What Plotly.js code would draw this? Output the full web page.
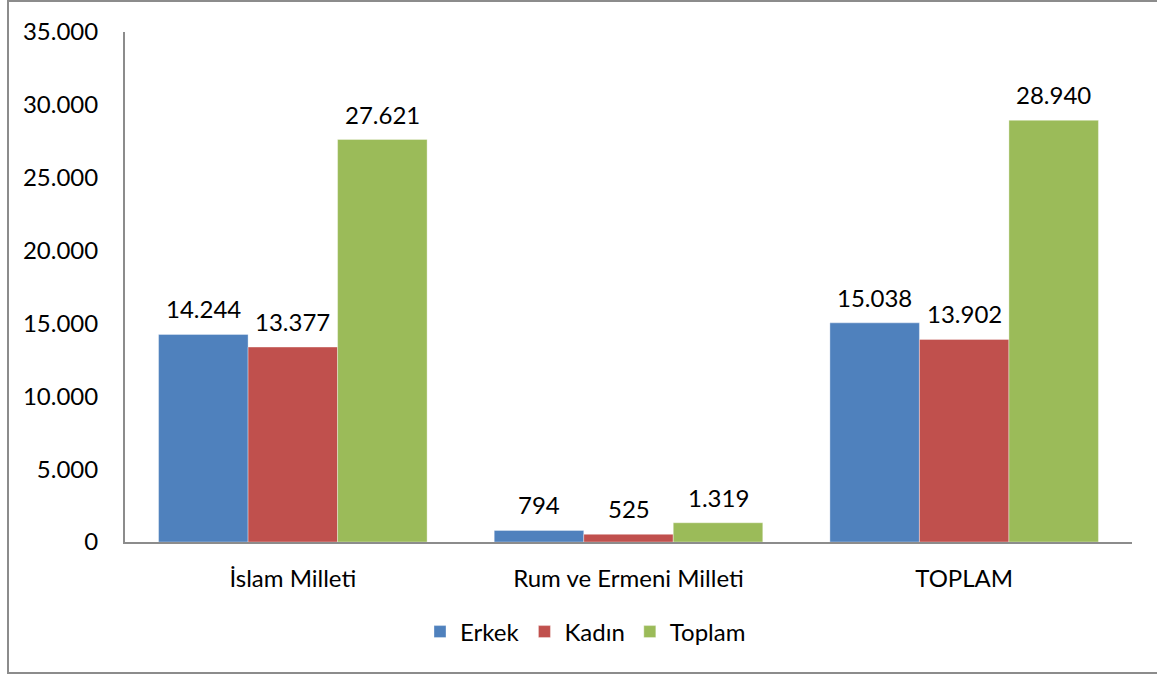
<!DOCTYPE html>
<html>
<head>
<meta charset="utf-8">
<script src="https://cdn.plot.ly/plotly-3.0.1.min.js"></script>
<style>html,body{margin:0;padding:0;background:#fff;}#chart{width:1157px;height:675px;}</style>
</head>
<body>
<div id="chart"></div>
<script>
const categories = ["İslam Milleti", "Rum ve Ermeni Milleti", "TOPLAM"];
const seriesNames = ["Erkek", "Kadın", "Toplam"];
const erkek = [14244, 794, 15038];
const kadin = [13377, 525, 13902];
const toplam = [27621, 1319, 28940];
const yTickVals = [0, 5000, 10000, 15000, 20000, 25000, 30000, 35000];

const colors = ["#4F81BD", "#C0504D", "#9BBB59"];
const allSeries = [erkek, kadin, toplam];
const FONT = "Lato, 'Open Sans', sans-serif";
const FS = 24;

const W = 1157, H = 675;
const margin = {l: 125, r: 25, t: 32, b: 133};
const plotW = W - margin.l - margin.r;
const plotH = H - margin.t - margin.b;
const bargap = 0.2;
const barPx = plotW / categories.length * (1 - bargap) / seriesNames.length;

const traces = allSeries.map((vals, i) => ({
  type: "bar",
  name: seriesNames[i],
  x: categories,
  y: vals,
  marker: {color: colors[i], line: {color: "rgba(255,255,255,0.35)", width: 1}},
  hoverinfo: "none"
}));

const annotations = [];
allSeries.forEach((vals, i) => {
  vals.forEach((v, k) => {
    annotations.push({
      x: categories[k], y: v, xref: "x", yref: "y",
      text: v.toLocaleString("de-DE"),
      showarrow: false, xanchor: "center", yanchor: "bottom",
      xshift: (i - 1) * barPx, yshift: 9,
      font: {family: FONT, size: FS, color: "#000"}
    });
  });
});

const px = x => (x - margin.l) / plotW;
const py = y => (H - margin.b - y) / plotH;

const layout = {
  width: W, height: H,
  margin: margin,
  paper_bgcolor: "#fff", plot_bgcolor: "#fff",
  separators: ",.",
  barmode: "group",
  bargap: bargap, bargroupgap: 0,
  showlegend: true,
  legend: {
    orientation: "h", x: px(420), xanchor: "left", y: py(632), yanchor: "middle",
    font: {family: FONT, size: FS, color: "#000"},
    itemwidth: 30, traceorder: "normal"
  },
  xaxis: {
    type: "category",
    showline: true, linecolor: "#8c8c8c", linewidth: 2,
    showgrid: false, zeroline: false, ticks: "",
    ticklabelstandoff: 14,
    tickfont: {family: FONT, size: FS, color: "#000"},
    fixedrange: true
  },
  yaxis: {
    range: [0, 35000],
    tickvals: yTickVals,
    ticktext: yTickVals.map(v => v.toLocaleString("de-DE")),
    showline: true, linecolor: "#8c8c8c", linewidth: 2,
    showgrid: false, zeroline: false, ticks: "",
    ticklabelstandoff: 20,
    tickfont: {family: FONT, size: FS, color: "#000"},
    fixedrange: true
  },
  annotations: annotations,
  shapes: [{
    type: "rect", xref: "paper", yref: "paper",
    x0: px(8), x1: px(1175), y0: py(673), y1: py(1),
    line: {color: "#8c8c8c", width: 2}, fillcolor: "rgba(0,0,0,0)", layer: "below"
  }]
};

Plotly.newPlot("chart", traces, layout, {displayModeBar: false, staticPlot: true});
</script>
</body>
</html>
